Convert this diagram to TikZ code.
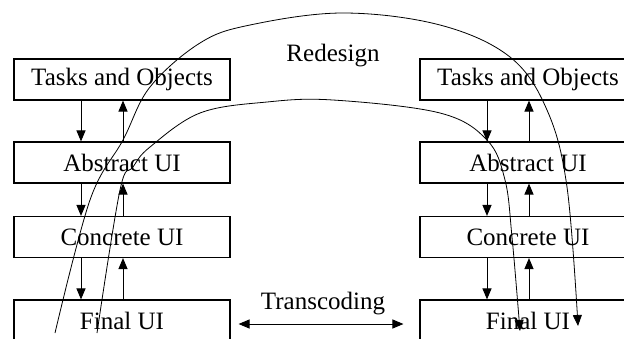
\documentclass[tikz,border=0pt]{standalone}
\usepackage{fontspec}
\setmainfont{Liberation Serif}
\usetikzlibrary{arrows.meta}
\begin{document}
\begin{tikzpicture}[x=1pt,y=-1pt,
  layerbox/.style={draw, line width=1.1pt, minimum width=216pt, minimum height=41pt, inner sep=0pt, font=\fontsize{25}{28}\selectfont},
  lbl/.style={inner sep=0pt, font=\fontsize{25}{28}\selectfont},
  arr/.style={line width=1pt, -{Triangle[length=11pt,width=9pt]}},
  darr/.style={line width=1pt, {Triangle[length=11pt,width=9pt]}-{Triangle[length=11pt,width=9pt]}},
  curvearr/.style={line width=0.8pt, -{Triangle[length=11pt,width=9pt]}}]
\useasboundingbox (0,0) rectangle (624,338);
\clip (0,0) rectangle (624,338);
% left column
\node[layerbox] (T1) at (122,79.5) {Tasks and Objects\hspace{9pt}};
\node[layerbox] (A1) at (122,162.5) {Abstract UI};
\node[layerbox] (C1) at (122,237) {Concrete UI};
\node[layerbox] (F1) at (122,320.5) {Final UI};
% right column
\node[layerbox] (T2) at (528,79.5) {Tasks and Objects\hspace{11pt}};
\node[layerbox] (A2) at (528,162.5) {Abstract UI};
\node[layerbox] (C2) at (528,237) {Concrete UI};
\node[layerbox] (F2) at (528,320.5) {Final UI};
% vertical arrows
\foreach \u/\d in {T1/A1,A1/C1,C1/F1,T2/A2,A2/C2,C2/F2}{
  \draw[arr] ([xshift=-41pt]\u.south) -- ([xshift=-41pt]\d.north);
  \draw[arr] ([xshift=1pt]\d.north) -- ([xshift=1pt]\u.south);
}
% labels
\node[lbl] (redesign) at (333,56) {Redesign};
\node[lbl] (transcoding) at (323,304) {Transcoding};
% transcoding arrow
\draw[darr] ([shift={(8pt,-3.5pt)}]F1.east) -- ([shift={(-16pt,-3.5pt)}]F2.west);
% redesign curves
\draw[curvearr] plot[smooth, tension=0.6] coordinates {(55,333) (90,200) (123,140) (150,87) (200,43) (250,25) (343,13) (440,25) (510,57) (547,110) (567,187) (578,326)};
\draw[curvearr] plot[smooth, tension=0.6] coordinates {(97,333) (120,190) (133,167) (150,147) (200,113) (267,102) (333,100) (440,113) (487,140) (505,180) (512,237) (520,331)};
\end{tikzpicture}
\end{document}
